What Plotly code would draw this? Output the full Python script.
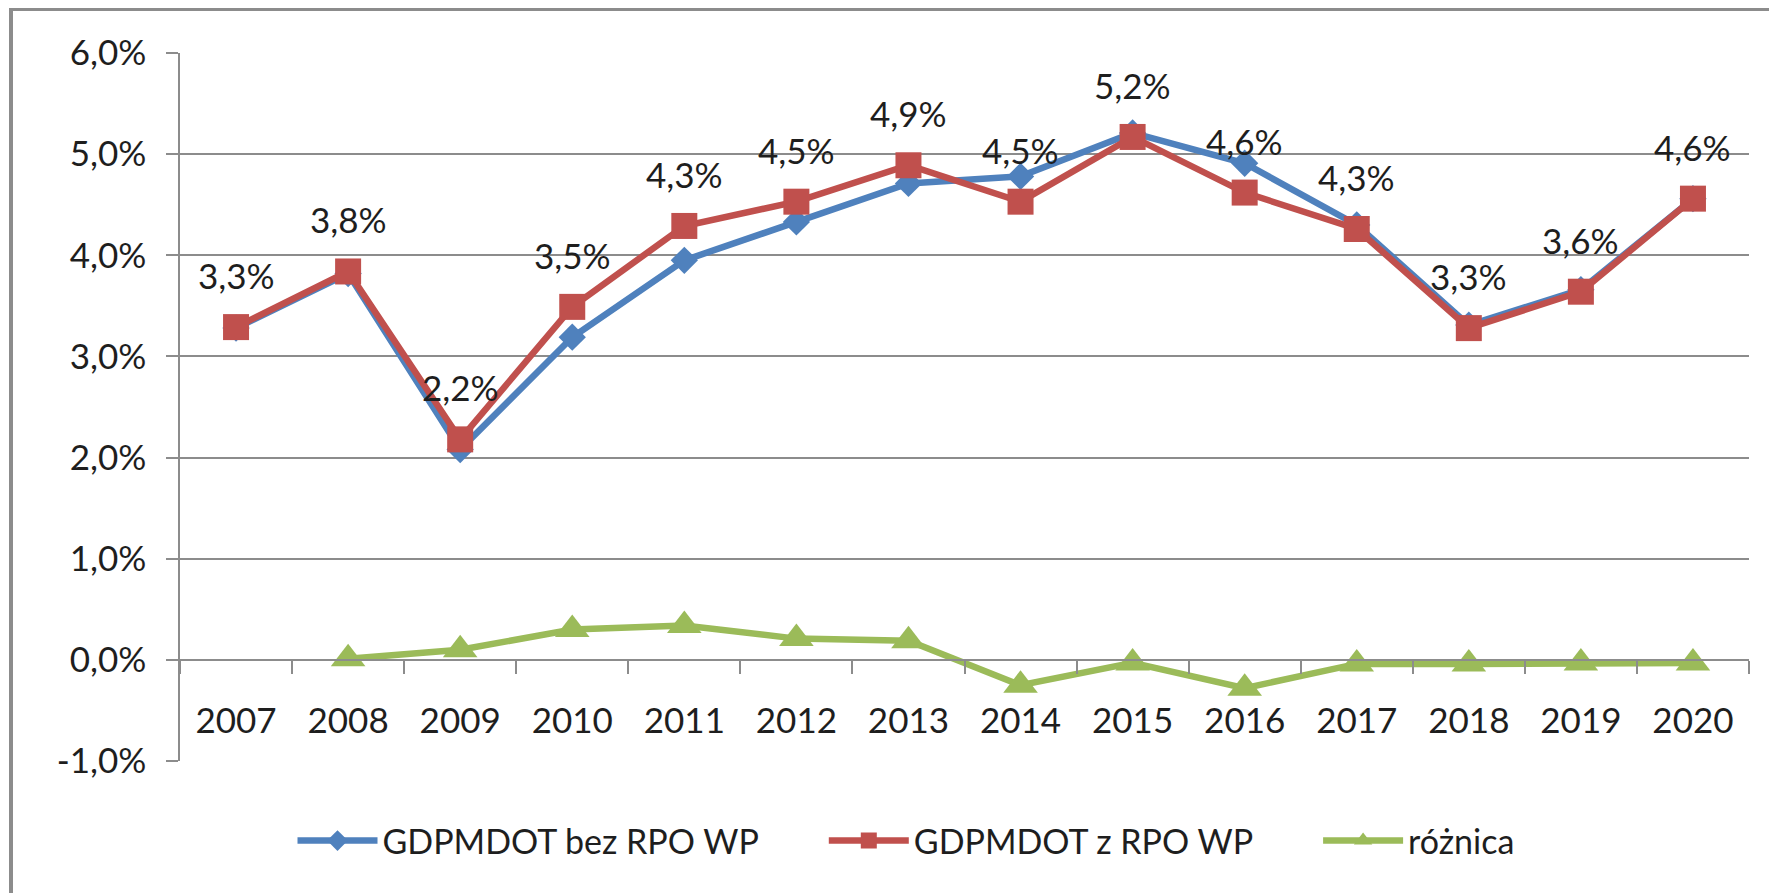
import plotly.graph_objects as go

# dane (w %)
years = ["2007", "2008", "2009", "2010", "2011", "2012", "2013",
         "2014", "2015", "2016", "2017", "2018", "2019", "2020"]
bez_rpo = [3.28, 3.82, 2.08, 3.19, 3.95, 4.33, 4.71, 4.78, 5.21, 4.91, 4.30, 3.31, 3.66, 4.56]
z_rpo = [3.29, 3.84, 2.18, 3.49, 4.29, 4.53, 4.89, 4.53, 5.17, 4.62, 4.26, 3.28, 3.64, 4.56]
roznica = [None, 0.01, 0.10, 0.30, 0.34, 0.21, 0.19, -0.25, -0.03, -0.28, -0.04, -0.04, -0.03, -0.03]

y_ticks = [-1, 0, 1, 2, 3, 4, 5, 6]
y_tick_labels = ["-1,0%", "0,0%", "1,0%", "2,0%", "3,0%", "4,0%", "5,0%", "6,0%"]

series_names = ["GDPMDOT bez RPO WP", "GDPMDOT z RPO WP", "różnica"]

FONT = "Lato"
TEXT_COLOR = "#1e1e1e"
GRID = "#8c8c8c"
# strona ma 8px marginesu body, wiec figura jest o tyle mniejsza
W, H = 1769, 885
M_L, M_R, M_T, M_B = 172, 28, 45, 132
PAD = "\u00a0" * 7  # odstep miedzy pozycjami legendy

fig = go.Figure()

fig.add_trace(go.Scatter(
    x=years, y=bez_rpo, name=series_names[0] + PAD, mode="lines+markers",
    line=dict(color="#4F81BD", width=6.5),
    marker=dict(symbol="diamond", size=21, color="#4F81BD"),
))
fig.add_trace(go.Scatter(
    x=years, y=z_rpo, name=series_names[1] + PAD, mode="lines+markers",
    line=dict(color="#C0504D", width=6.5),
    marker=dict(symbol="square", size=26, color="#C0504D"),
))
fig.add_trace(go.Scatter(
    x=years, y=roznica, name=series_names[2], mode="lines+markers",
    line=dict(color="#9BBB59", width=6.5),
    marker=dict(symbol="triangle-up", size=30, color="#9BBB59"),
))

# etykiety danych nad seria "z RPO WP"
for i, v in enumerate(z_rpo):
    fig.add_annotation(
        x=i, y=v, xref="x", yref="y",
        text=f"{v:.1f}".replace(".", ",") + "%",
        showarrow=False, yshift=52, yanchor="middle",
        font=dict(family=FONT, size=35, color=TEXT_COLOR),
    )

y_min, y_max = y_ticks[0], y_ticks[-1]
plot_h = H - M_T - M_B
plot_w = W - M_L - M_R

# ramka wykresu (widoczna tylko z lewej i z gory)
fig.add_shape(
    type="rect", xref="paper", yref="paper", layer="below",
    x0=(3 - M_L) / plot_w, x1=1.2,
    y0=-0.5, y1=1 + (M_T - 1) / plot_h,
    line=dict(color="#8c8c8c", width=4), fillcolor="rgba(0,0,0,0)",
)

fig.update_xaxes(
    type="category", range=[-0.5, len(years) - 0.5],
    anchor="free", position=(0 - y_min) / (y_max - y_min),
    showline=True, linecolor=GRID, linewidth=1.5,
    ticks="outside", tickson="boundaries", ticklen=13, tickcolor=GRID, tickwidth=1.5,
    showgrid=False, ticklabelstandoff=30,
    tickfont=dict(family=FONT, size=35, color=TEXT_COLOR),
)
fig.update_yaxes(
    range=[y_min, y_max], tickvals=y_ticks, ticktext=y_tick_labels,
    showline=True, linecolor=GRID, linewidth=1.5,
    ticks="outside", ticklen=12, tickcolor=GRID, tickwidth=1.5,
    showgrid=True, gridcolor=GRID, gridwidth=1.5, zeroline=False,
    ticklabelstandoff=13,
    tickfont=dict(family=FONT, size=35, color=TEXT_COLOR),
)

fig.update_layout(
    width=W, height=H,
    margin=dict(l=M_L, r=M_R, t=M_T, b=M_B),
    plot_bgcolor="white", paper_bgcolor="white",
    font=dict(family=FONT, size=35, color=TEXT_COLOR),
    showlegend=True,
    legend=dict(
        orientation="h", xref="paper", yref="paper",
        x=(898 - M_L) / plot_w, y=(H - M_B - 833) / plot_h,
        xanchor="center", yanchor="middle",
        font=dict(family=FONT, size=34, color=TEXT_COLOR),
        itemwidth=80, traceorder="normal",
    ),
)

fig.write_html("out.html")
